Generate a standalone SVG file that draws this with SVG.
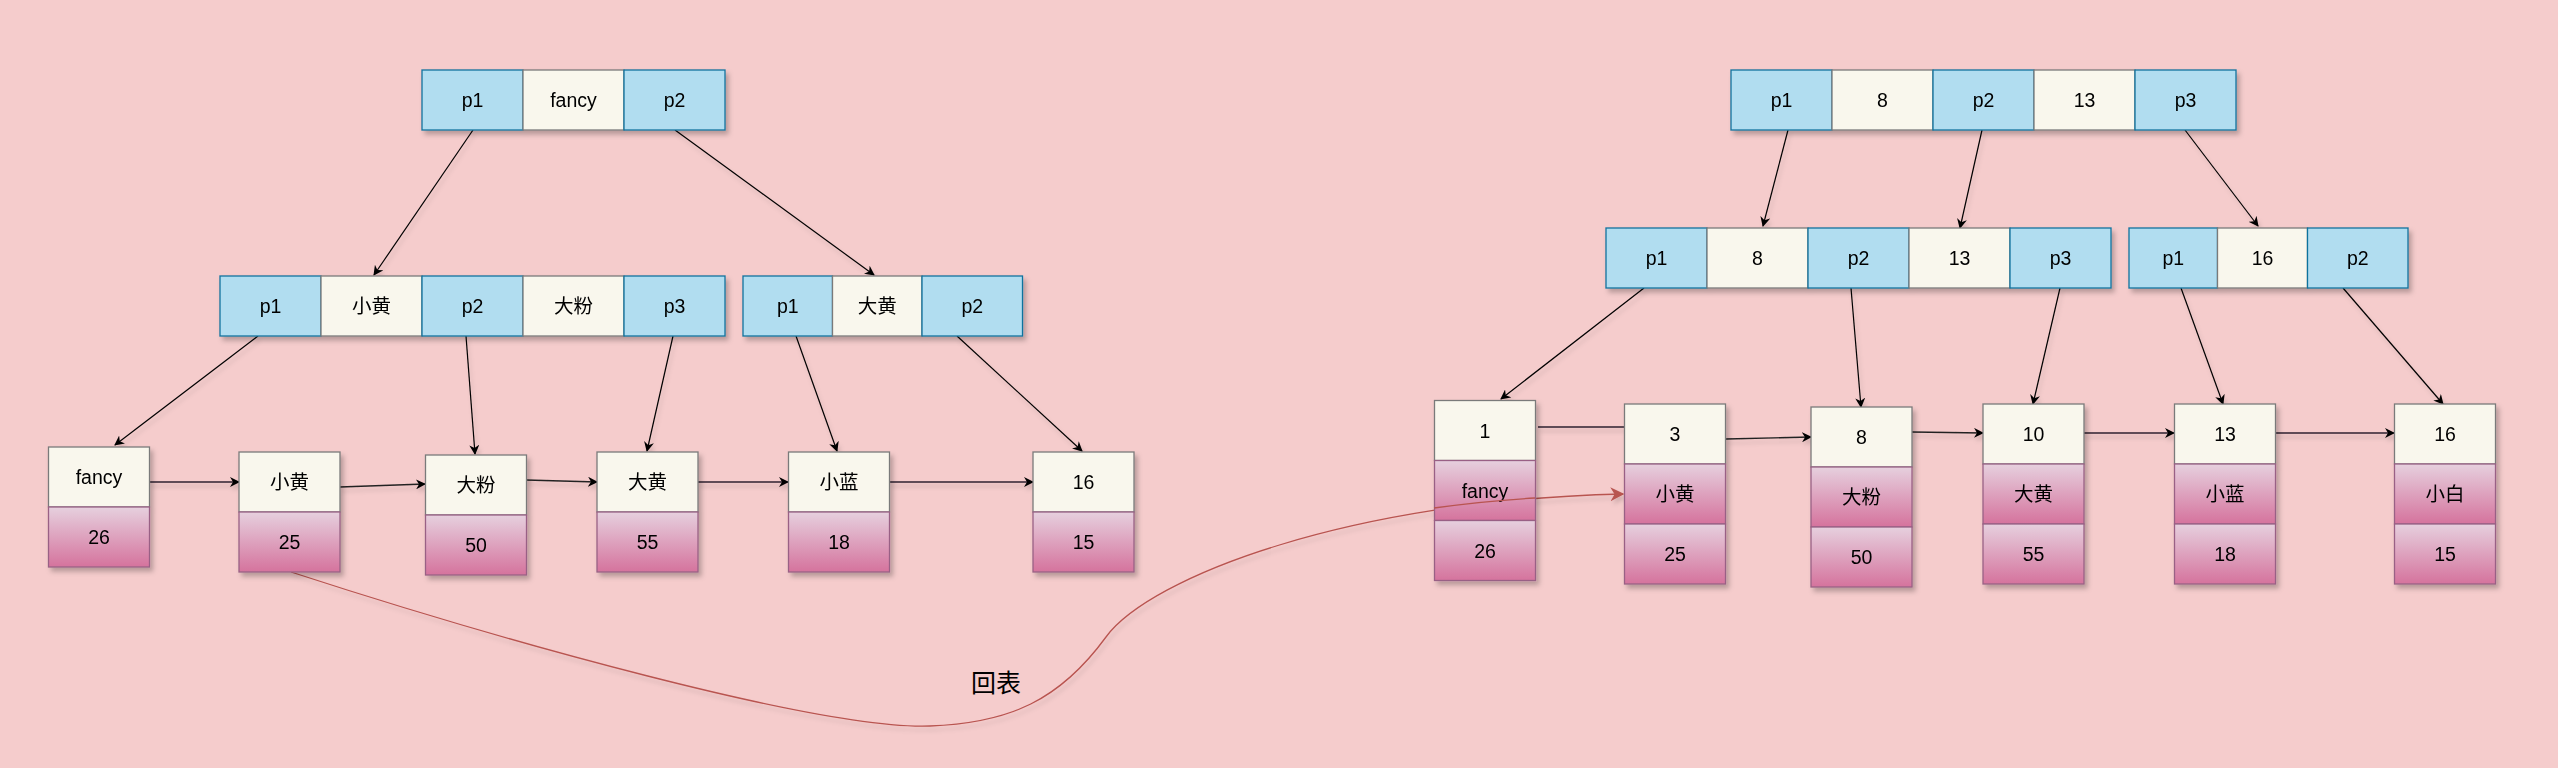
<svg xmlns="http://www.w3.org/2000/svg" width="2558" height="768" viewBox="0 0 2558 768">
<defs>
<linearGradient id="pink" x1="0" y1="0" x2="0" y2="1">
<stop offset="0" stop-color="#e6d0de"/>
<stop offset="1" stop-color="#d5739d"/>
</linearGradient>
<filter id="sh" x="-20%" y="-20%" width="150%" height="160%">
<feDropShadow dx="3" dy="4" stdDeviation="2.5" flood-color="#000" flood-opacity="0.25"/>
</filter>
<filter id="shl" x="-5%" y="-5%" width="110%" height="120%">
<feDropShadow dx="2" dy="4" stdDeviation="2" flood-color="#000" flood-opacity="0.15"/>
</filter>
<marker id="ah" viewBox="0 0 10 10" refX="9" refY="5" markerWidth="10" markerHeight="10" markerUnits="userSpaceOnUse" orient="auto">
<path d="M0,0 L10,5 L0,10 L3,5 Z" fill="#000"/>
</marker>
<marker id="ahr" viewBox="0 0 10 10" refX="9" refY="5" markerWidth="14" markerHeight="14" markerUnits="userSpaceOnUse" orient="auto">
<path d="M0,0 L10,5 L0,10 L3,5 Z" fill="#b85450"/>
</marker>
</defs>
<style>
.b{fill:#b1ddf0;stroke:#10739e;stroke-width:1.3}
.c{fill:#f9f7ed;stroke:#7a7a7a;stroke-width:1.3}
.k{fill:url(#pink);stroke:#996185;stroke-width:1.3}
text{font-family:"Liberation Sans","Noto Sans CJK SC",sans-serif;font-size:19.5px;fill:#000;text-anchor:middle;dominant-baseline:central}
.n{filter:url(#sh)}
.tl{stroke:#000;stroke-width:1.2;fill:none;marker-end:url(#ah)}
.lk{stroke:#5e4b57;stroke-width:2.2;fill:none;marker-end:url(#ah)}
.lk0{stroke:#5e4b57;stroke-width:2.2;fill:none}
.lt{stroke:#222;stroke-width:1.4;fill:none;marker-end:url(#ah)}
</style>
<rect width="2558" height="768" fill="#f5cccc"/>

<g id="connectors" filter="url(#shl)">
<!-- left tree -->
<line class="tl" x1="473" y1="130" x2="374" y2="275"/>
<line class="tl" x1="675" y1="130" x2="874" y2="275"/>
<line class="tl" x1="258" y1="336" x2="115" y2="445"/>
<line class="tl" x1="466" y1="336" x2="475" y2="454"/>
<line class="tl" x1="673" y1="336" x2="647" y2="451"/>
<line class="tl" x1="796" y1="336" x2="837" y2="451"/>
<line class="tl" x1="957" y1="336" x2="1082" y2="451"/>
<line class="lk" x1="150" y1="482" x2="239" y2="482"/>
<line class="lt" x1="340" y1="487" x2="425" y2="484"/>
<line class="lt" x1="526" y1="480" x2="597" y2="482"/>
<line class="lk" x1="698" y1="482" x2="788" y2="482"/>
<line class="lk" x1="890" y1="482" x2="1033" y2="482"/>
<!-- right tree -->
<line class="tl" x1="1788" y1="130" x2="1763" y2="226"/>
<line class="tl" x1="1982" y1="130" x2="1960" y2="228"/>
<line class="tl" x1="2185" y1="130" x2="2258" y2="226"/>
<line class="tl" x1="1644" y1="288" x2="1501" y2="399"/>
<line class="tl" x1="1851" y1="288" x2="1861" y2="407"/>
<line class="tl" x1="2060" y1="288" x2="2033" y2="404"/>
<line class="tl" x1="2181" y1="288" x2="2223" y2="404"/>
<line class="tl" x1="2343" y1="288" x2="2443" y2="404"/>
<line class="lk0" x1="1538" y1="427" x2="1624" y2="427"/>
<line class="lt" x1="1726" y1="439" x2="1811" y2="437"/>
<line class="lt" x1="1912" y1="432" x2="1983" y2="433"/>
<line class="lk" x1="2084" y1="433" x2="2174" y2="433"/>
<line class="lk" x1="2276" y1="433" x2="2394" y2="433"/>
<!-- 回表 curve -->
<path d="M291,572 C500,640 820,730 930,726 C1010,723 1060,700 1106,637 C1150,577 1350,500 1623,494" fill="none" stroke="#b85450" stroke-width="1.3" marker-end="url(#ahr)"/>
</g>

<g id="label-huibiao"><text x="996" y="683" style="font-size:25px">回表</text></g>

<!-- left tree nodes -->
<g id="lt-root" class="n">
<rect class="b" x="422" y="70" width="101" height="60"/><text x="472.5" y="100">p1</text>
<rect class="c" x="523" y="70" width="101" height="60"/><text x="573.5" y="100">fancy</text>
<rect class="b" x="624" y="70" width="101" height="60"/><text x="674.5" y="100">p2</text>
</g>
<g id="lt-mid1" class="n">
<rect class="b" x="220" y="276" width="101" height="60"/><text x="270.5" y="306">p1</text>
<rect class="c" x="321" y="276" width="101" height="60"/><text x="371.5" y="306">小黄</text>
<rect class="b" x="422" y="276" width="101" height="60"/><text x="472.5" y="306">p2</text>
<rect class="c" x="523" y="276" width="101" height="60"/><text x="573.5" y="306">大粉</text>
<rect class="b" x="624" y="276" width="101" height="60"/><text x="674.5" y="306">p3</text>
</g>
<g id="lt-mid2" class="n">
<rect class="b" x="743" y="276" width="89.5" height="60"/><text x="787.8" y="306">p1</text>
<rect class="c" x="832.5" y="276" width="89.5" height="60"/><text x="877.3" y="306">大黄</text>
<rect class="b" x="922" y="276" width="100.5" height="60"/><text x="972.3" y="306">p2</text>
</g>
<g id="lt-leaf-fancy" class="n">
<rect class="c" x="48.5" y="447" width="101" height="60"/><text x="99" y="477">fancy</text>
<rect class="k" x="48.5" y="507" width="101" height="60"/><text x="99" y="537">26</text>
</g>
<g id="lt-leaf-xiaohuang" class="n">
<rect class="c" x="239" y="452" width="101" height="60"/><text x="289.5" y="482">小黄</text>
<rect class="k" x="239" y="512" width="101" height="60"/><text x="289.5" y="542">25</text>
</g>
<g id="lt-leaf-dafen" class="n">
<rect class="c" x="425.5" y="455" width="101" height="60"/><text x="476" y="485">大粉</text>
<rect class="k" x="425.5" y="515" width="101" height="60"/><text x="476" y="545">50</text>
</g>
<g id="lt-leaf-dahuang" class="n">
<rect class="c" x="597" y="452" width="101" height="60"/><text x="647.5" y="482">大黄</text>
<rect class="k" x="597" y="512" width="101" height="60"/><text x="647.5" y="542">55</text>
</g>
<g id="lt-leaf-xiaolan" class="n">
<rect class="c" x="788.5" y="452" width="101" height="60"/><text x="839" y="482">小蓝</text>
<rect class="k" x="788.5" y="512" width="101" height="60"/><text x="839" y="542">18</text>
</g>
<g id="lt-leaf-16" class="n">
<rect class="c" x="1033" y="452" width="101" height="60"/><text x="1083.5" y="482">16</text>
<rect class="k" x="1033" y="512" width="101" height="60"/><text x="1083.5" y="542">15</text>
</g>

<!-- right tree nodes -->
<g id="rt-root" class="n">
<rect class="b" x="1731" y="70" width="101" height="60"/><text x="1781.5" y="100">p1</text>
<rect class="c" x="1832" y="70" width="101" height="60"/><text x="1882.5" y="100">8</text>
<rect class="b" x="1933" y="70" width="101" height="60"/><text x="1983.5" y="100">p2</text>
<rect class="c" x="2034" y="70" width="101" height="60"/><text x="2084.5" y="100">13</text>
<rect class="b" x="2135" y="70" width="101" height="60"/><text x="2185.5" y="100">p3</text>
</g>
<g id="rt-mid1" class="n">
<rect class="b" x="1606" y="228" width="101" height="60"/><text x="1656.5" y="258">p1</text>
<rect class="c" x="1707" y="228" width="101" height="60"/><text x="1757.5" y="258">8</text>
<rect class="b" x="1808" y="228" width="101" height="60"/><text x="1858.5" y="258">p2</text>
<rect class="c" x="1909" y="228" width="101" height="60"/><text x="1959.5" y="258">13</text>
<rect class="b" x="2010" y="228" width="101" height="60"/><text x="2060.5" y="258">p3</text>
</g>
<g id="rt-mid2" class="n">
<rect class="b" x="2129" y="228" width="88.5" height="60"/><text x="2173.3" y="258">p1</text>
<rect class="c" x="2217.5" y="228" width="90" height="60"/><text x="2262.5" y="258">16</text>
<rect class="b" x="2307.5" y="228" width="100.5" height="60"/><text x="2357.8" y="258">p2</text>
</g>
<g id="rt-leaf-1" class="n">
<rect class="c" x="1434.5" y="400.5" width="101" height="60"/><text x="1485" y="430.5">1</text>
<rect class="k" x="1434.5" y="460.5" width="101" height="60"/><text x="1485" y="490.5">fancy</text>
<rect class="k" x="1434.5" y="520.5" width="101" height="60"/><text x="1485" y="550.5">26</text>
</g>
<g id="rt-leaf-3" class="n">
<rect class="c" x="1624.5" y="404" width="101" height="60"/><text x="1675" y="434">3</text>
<rect class="k" x="1624.5" y="464" width="101" height="60"/><text x="1675" y="494">小黄</text>
<rect class="k" x="1624.5" y="524" width="101" height="60"/><text x="1675" y="554">25</text>
</g>
<g id="rt-leaf-8" class="n">
<rect class="c" x="1811" y="407" width="101" height="60"/><text x="1861.5" y="437">8</text>
<rect class="k" x="1811" y="467" width="101" height="60"/><text x="1861.5" y="497">大粉</text>
<rect class="k" x="1811" y="527" width="101" height="60"/><text x="1861.5" y="557">50</text>
</g>
<g id="rt-leaf-10" class="n">
<rect class="c" x="1983" y="404" width="101" height="60"/><text x="2033.5" y="434">10</text>
<rect class="k" x="1983" y="464" width="101" height="60"/><text x="2033.5" y="494">大黄</text>
<rect class="k" x="1983" y="524" width="101" height="60"/><text x="2033.5" y="554">55</text>
</g>
<g id="rt-leaf-13" class="n">
<rect class="c" x="2174.5" y="404" width="101" height="60"/><text x="2225" y="434">13</text>
<rect class="k" x="2174.5" y="464" width="101" height="60"/><text x="2225" y="494">小蓝</text>
<rect class="k" x="2174.5" y="524" width="101" height="60"/><text x="2225" y="554">18</text>
</g>
<g id="rt-leaf-16" class="n">
<rect class="c" x="2394.5" y="404" width="101" height="60"/><text x="2445" y="434">16</text>
<rect class="k" x="2394.5" y="464" width="101" height="60"/><text x="2445" y="494">小白</text>
<rect class="k" x="2394.5" y="524" width="101" height="60"/><text x="2445" y="554">15</text>
</g>
<!-- red curve segment visible over leaf 1 -->
<g id="connector-overlay">
<path d="M1434,508 C1470,503 1500,500 1535,498" fill="none" stroke="#b85450" stroke-width="1.3"/>
</g>
</svg>
